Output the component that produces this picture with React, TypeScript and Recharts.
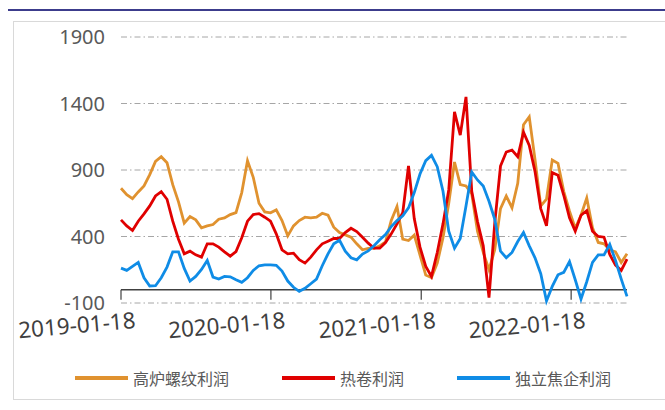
import React from 'react';
import { LineChart, Line, XAxis, YAxis, CartesianGrid, ReferenceLine } from 'recharts';

const DAY = 86400000;
const START = Date.UTC(2019, 0, 18);
const STEP_DAYS = 14;

const tickLabels = ['2019-01-18', '2020-01-18', '2021-01-18', '2022-01-18'];
const yTicks = [-100, 400, 900, 1400, 1900];

// 高炉螺纹利润
const rebar = [
  763, 715, 685, 735, 780, 865, 965, 1000, 955, 790,
  660, 500, 550, 525, 465, 480, 490, 530, 540, 565,
  580, 730, 970, 845, 650, 585, 578, 600, 520, 405,
  480, 520, 545, 540, 545, 575, 560, 470, 430, 412,
  395, 345, 300, 310, 310, 330, 360, 520, 625, 380,
  370, 410, 260, 110, 90, 200, 390, 650, 960, 790,
  780, 720, 440, 280, 150, 300, 610, 705, 615, 800,
  1240, 1300, 980, 630, 680, 975, 950, 740, 590, 462,
  560, 690, 465, 355, 345, 300, 285, 205, 270,
];

// 热卷利润
const hotCoil = [
  525, 480, 445, 515, 570, 630, 705, 737, 680, 515,
  380, 270, 290, 262, 245, 345, 345, 320, 285, 252,
  287, 390, 515, 565, 572, 545, 515, 420, 300, 270,
  275, 225, 200, 245, 300, 345, 365, 385, 385, 430,
  462, 437, 395, 350, 312, 312, 355, 420, 495, 580,
  930, 535, 320, 175, 100, 280, 495, 750, 1337, 1162,
  1450, 740, 512, 330, -60, 500, 930, 1035, 1050, 1000,
  1185, 1085, 890, 610, 480, 880, 860, 710, 540, 440,
  560, 595, 440, 400, 395, 265, 185, 145, 230,
];

// 独立焦企利润
const coke = [
  162, 145, 175, 205, 90, 28, 30, 90, 170, 285,
  285, 160, 65, 100, 152, 220, 95, 80, 100, 97,
  75, 55, 90, 145, 180, 187, 187, 183, 140, 65,
  18, -12, 10, 45, 80, 180, 270, 345, 372, 290,
  240, 225, 268, 292, 330, 375, 415, 475, 520, 555,
  615, 730, 870, 970, 1010, 925, 740, 440, 312, 385,
  630, 885, 825, 780, 665, 530, 290, 240, 280, 362,
  430, 330, 240, 120, -85, 25, 112, 130, 212, 75,
  -70, 60, 205, 262, 262, 340, 220, 80, -50,
];

const seriesKeys = ['rebar', 'hotCoil', 'coke'];
const seriesNames = ['高炉螺纹利润', '热卷利润', '独立焦企利润'];
const COLORS = ['#E0922F', '#E00000', '#0F8CE6'];

const data = rebar.map((v, i) => ({
  t: START + i * STEP_DAYS * DAY,
  rebar: v,
  hotCoil: hotCoil[i],
  coke: coke[i],
}));

const parseDate = (s: string) => {
  const [y, m, d] = s.split('-').map(Number);
  return Date.UTC(y, m - 1, d);
};
const tickTimes = tickLabels.map(parseDate);

const fmt = (t: number) => {
  const d = new Date(t);
  const p = (n: number) => String(n).padStart(2, '0');
  return `${d.getUTCFullYear()}-${p(d.getUTCMonth() + 1)}-${p(d.getUTCDate())}`;
};

const DateTick = (props: any) => {
  const { x, y, payload } = props;
  const tx = x + 15;
  const ty = y + 17;
  return (
    <text
      x={tx}
      y={ty}
      textAnchor="end"
      fill="#404040"
      fontSize={22.5}
      fontFamily="'Noto Sans', sans-serif"
      transform={`rotate(-5, ${tx}, ${ty})`}
    >
      {fmt(payload.value)}
    </text>
  );
};

export default function App() {
  return (
    <div style={{ position: 'absolute', left: 0, top: 0, width: 665, height: 410, background: '#fff', overflow: 'hidden' }}>
      <div style={{ position: 'absolute', left: 8, top: 9, width: 657, height: 2, background: '#3c3c8c' }} />
      <div style={{ position: 'absolute', left: 13, top: 21, width: 660, height: 377, border: '1px solid #d9d9d9' }} />
      <div style={{ position: 'absolute', left: 0, top: 0 }}>
        <LineChart width={665} height={410} data={data} margin={{ top: 37, right: 38, bottom: 77, left: 0 }}>
          <CartesianGrid vertical={false} stroke="#a6a6a6" strokeDasharray="6 3 1.5 3" />
          <XAxis
            dataKey="t"
            type="number"
            domain={[START, START + 88 * STEP_DAYS * DAY]}
            ticks={tickTimes}
            interval={0}
            axisLine={false}
            tickLine={false}
            height={30}
            tick={<DateTick />}
          />
          <YAxis
            domain={[-100, 1900]}
            ticks={yTicks}
            interval={0}
            axisLine={false}
            tickLine={false}
            tickSize={0}
            tickMargin={16}
            width={121}
            tick={{ fill: '#595959', fontSize: 20, fontFamily: "'Noto Sans', sans-serif" }}
          />
          <ReferenceLine y={0} stroke="#404040" strokeWidth={1.5} />
          {tickTimes.map((t) => (
            <ReferenceLine
              key={t}
              segment={[{ x: t, y: 0 }, { x: t, y: -75 }]}
              stroke="#404040"
              strokeWidth={1.2}
            />
          ))}
          {seriesKeys.map((k, i) => (
            <Line
              key={k}
              type="linear"
              dataKey={k}
              name={seriesNames[i]}
              stroke={COLORS[i]}
              strokeWidth={2.8}
              dot={false}
              isAnimationActive={false}
            />
          ))}
        </LineChart>
      </div>
      {/* 图例 */}
      <div
        style={{
          position: 'absolute',
          left: 13,
          top: 366,
          width: 660,
          display: 'flex',
          justifyContent: 'center',
          alignItems: 'center',
          gap: 53,
          fontFamily: "'Noto Sans CJK SC', sans-serif",
          fontSize: 16,
          color: '#595959',
        }}
      >
        {seriesNames.map((n, i) => (
          <div key={n} style={{ display: 'flex', alignItems: 'center', gap: 5 }}>
            <svg width={53} height={6}>
              <line x1={0} y1={3} x2={53} y2={3} stroke={COLORS[i]} strokeWidth={4} />
            </svg>
            <span>{n}</span>
          </div>
        ))}
      </div>
    </div>
  );
}
